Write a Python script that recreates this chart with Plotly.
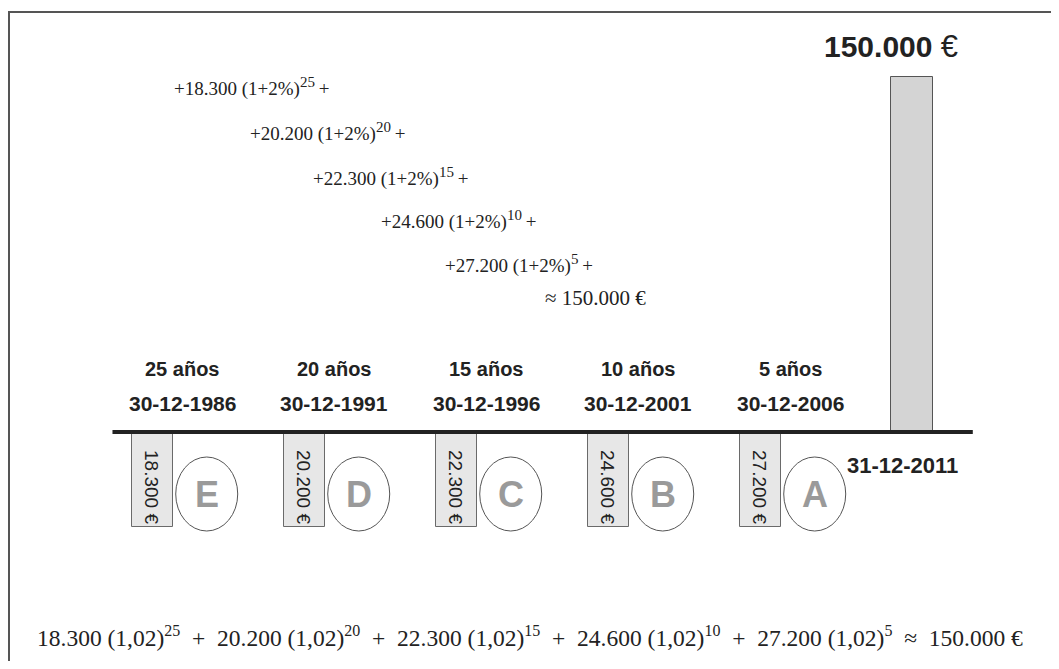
import plotly.graph_objects as go

# ---------------- data ----------------
years_ago = [25, 20, 15, 10, 5]
deposit_dates = ["30-12-1986", "30-12-1991", "30-12-1996", "30-12-2001", "30-12-2006"]
deposit_years = [1986, 1991, 1996, 2001, 2006]
deposits = [18300, 20200, 22300, 24600, 27200]
letters = ["E", "D", "C", "B", "A"]
final_year = 2011
final_date = "31-12-2011"
final_value = 150000
rate_label = "2%"
factor_label = "1,02"


def es(v):
    return f"{v:,}".replace(",", ".")


# ---------------- geometry helpers ----------------
# The page body has an 8px margin, so the figure is 16px smaller than the window
OFF = 8
WIN_W, WIN_H = 1059, 669
W, H = WIN_W - 2 * OFF, WIN_H - 2 * OFF
X_PER_PX = 1 / 30.4                  # years per pixel
X0 = 1986 - (152 - OFF) * X_PER_PX   # left edge of figure in years
BASE_PX = 432 - OFF                  # timeline, in figure pixels
EUR_PER_PX = final_value / 355.0
Y_TOP = BASE_PX * EUR_PER_PX
Y_BOT = -(H - BASE_PX) * EUR_PER_PX
DEPTH = 95 * EUR_PER_PX              # schematic depth of deposit bars


def px(x):   # window pixel -> paper
    return (x - OFF) / W


def py(y):
    return 1 - (y - OFF) / H


fig = go.Figure()

fig.add_trace(go.Bar(
    x=deposit_years, y=[-DEPTH] * len(deposits), width=41 * X_PER_PX,
    marker=dict(color="#e7e7e7", line=dict(color="#6a6a6a", width=1)),
    hoverinfo="skip", showlegend=False,
))
fig.add_trace(go.Bar(
    x=[final_year], y=[final_value], width=42 * X_PER_PX,
    marker=dict(color="#d4d4d4", line=dict(color="#555555", width=1)),
    hoverinfo="skip", showlegend=False,
))

shapes = []
# timeline
shapes.append(dict(type="line", xref="x", yref="y",
                   x0=deposit_years[0] - 1.3, x1=final_year + 2.0, y0=0, y1=0,
                   line=dict(color="#222222", width=4)))
# frame (top and left)
shapes.append(dict(type="line", xref="paper", yref="paper",
                   x0=px(8), x1=1, y0=py(12), y1=py(12),
                   line=dict(color="#555555", width=2)))
shapes.append(dict(type="line", xref="paper", yref="paper",
                   x0=px(9), x1=px(9), y0=py(12), y1=0,
                   line=dict(color="#555555", width=2)))

annotations = []
SANS = "Liberation Sans"
SERIF = "Liberation Serif"
INK = "#222222"


def note(**kw):
    kw.setdefault("xanchor", "center")
    kw.setdefault("yanchor", "middle")
    kw.setdefault("showarrow", False)
    annotations.append(kw)


def sup(t, size):
    return f"<sup><span style='font-size:{size}px'>{t}</span></sup>"


for yr, ago, d, v, L in zip(deposit_years, years_ago, deposit_dates, deposits, letters):
    note(x=yr + 1.0, y=py(369), xref="x", yref="paper", text=f"<b>{ago} años</b>",
         font=dict(family=SANS, size=20, color=INK))
    note(x=yr + 1.0, y=py(403), xref="x", yref="paper", text=f"<b>{d}</b>",
         font=dict(family=SANS, size=21, color=INK))
    note(x=yr, y=py(487), xref="x", yref="paper", text=f"{es(v)} €", textangle=90,
         font=dict(family=SANS, size=19, color=INK))
    cx = yr + 1.8
    shapes.append(dict(type="circle", xref="x", yref="paper",
                       x0=cx - 31 * X_PER_PX, x1=cx + 31 * X_PER_PX,
                       y0=py(531), y1=py(457),
                       line=dict(color="#555555", width=1), fillcolor="rgba(0,0,0,0)"))
    note(x=cx, y=py(494), xref="x", yref="paper", text=f"<b>{L}</b>",
         font=dict(family=SANS, size=36, color="#9a9a9a"))

note(x=px(891), y=py(47), xref="paper", yref="paper",
     text=f"<b>{es(final_value)}</b> <span style='font-size:31px'>€</span>",
     font=dict(family=SANS, size=30, color=INK))
note(x=final_year - 0.3, y=py(465), xref="x", yref="paper", text=f"<b>{final_date}</b>",
     font=dict(family=SANS, size=22, color=INK))

# stepwise formula
step_x = [172, 248, 311, 379, 443]
step_y = [87, 132, 177, 220, 264]
for v, ago, sx, sy in zip(deposits, years_ago, step_x, step_y):
    note(x=px(sx), y=py(sy), xref="paper", yref="paper", xanchor="left",
         text=f"+{es(v)} (1+{rate_label}){sup(ago, 15)}&#8201;+",
         font=dict(family=SERIF, size=19, color=INK))
note(x=px(543), y=py(298), xref="paper", yref="paper", xanchor="left",
     text=f"≈ {es(final_value)} €", font=dict(family=SERIF, size=21, color=INK))

# bottom formula
SEP = "&nbsp;&nbsp;"
parts = [f"{es(v)} ({factor_label}){sup(ago, 16)}" for v, ago in zip(deposits, years_ago)]
bottom = f"{SEP}+{SEP}".join(parts) + f"{SEP}≈{SEP}{es(final_value)} €"
note(x=px(35), y=py(636), xref="paper", yref="paper", xanchor="left", text=bottom,
     font=dict(family=SERIF, size=23.5, color=INK))

fig.update_layout(
    width=W, height=H, margin=dict(l=0, r=0, t=0, b=0),
    paper_bgcolor="white", plot_bgcolor="white",
    xaxis=dict(range=[X0, X0 + W * X_PER_PX], visible=False, fixedrange=True),
    yaxis=dict(range=[Y_BOT, Y_TOP], visible=False, fixedrange=True),
    shapes=shapes, annotations=annotations, bargap=0,
)

fig.write_html("out.html")
